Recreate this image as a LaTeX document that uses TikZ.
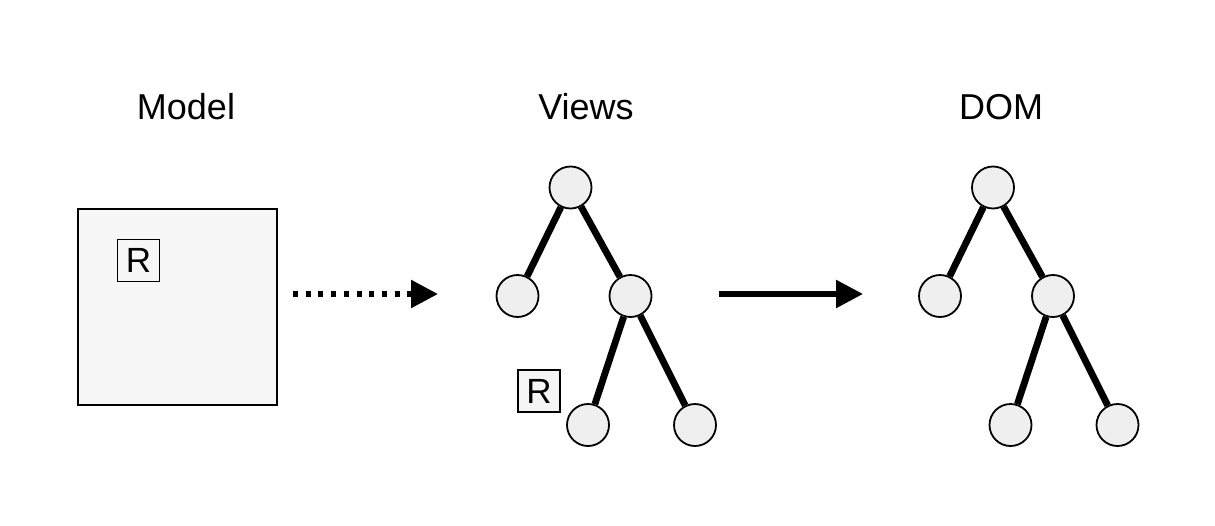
\documentclass[tikz,border=0pt]{standalone}
\usepackage{fontspec}
\setmainfont{Liberation Sans}
\usetikzlibrary{arrows.meta}
\definecolor{boxfill}{HTML}{F7F7F7}
\definecolor{circfill}{HTML}{EFEFEF}
\definecolor{rfill}{HTML}{F5F5F5}
\tikzset{
  title/.style={anchor=base, font=\fontsize{36}{42}\selectfont, inner sep=0pt},
  tnode/.style={circle, draw=black, line width=1.8pt, fill=circfill, minimum size=42pt, inner sep=0pt},
  tedge/.style={line width=6.8pt, draw=black},
  rbox/.style={draw=black, line width=1.8pt, fill=rfill, minimum size=42pt, inner sep=0pt, font=\fontsize{35}{40}\selectfont},
  bigarrow/.style={line width=5.5pt, -{Triangle[length=27pt,width=27pt]}},
}
\begin{document}
\begin{tikzpicture}[x=1pt,y=-1pt]
\useasboundingbox (0,0) rectangle (1215,525);
% titles
\node[title] (tmodel) at (186,119) {Model};
\node[title] (tviews) at (586,119) {Views};
\node[title] (tdom) at (1001,119) {DOM};
% model box
\node[draw=black, line width=2pt, fill=boxfill, minimum width=199pt, minimum height=196pt, inner sep=0pt] (model) at (177,307) {};
\node[rbox, fill=boxfill] (rmodel) at (138.5,260.5) {R};
% views tree
\node[tnode] (v1) at (570.5,187.5) {};
\node[tnode] (v2) at (517.5,296) {};
\node[tnode] (v3) at (630.5,296) {};
\node[tnode] (v4) at (588,425) {};
\node[tnode] (v5) at (695,425) {};
\draw[tedge] (v1) -- (v2);
\draw[tedge] (v1) -- (v3);
\draw[tedge] (v3) -- (v4);
\draw[tedge] (v3) -- (v5);
\node[rbox] (rview) at (539,391) {R};
% dom tree
\node[tnode] (d1) at (993,187.5) {};
\node[tnode] (d2) at (940,296) {};
\node[tnode] (d3) at (1053,296) {};
\node[tnode] (d4) at (1010.5,425) {};
\node[tnode] (d5) at (1117.5,425) {};
\draw[tedge] (d1) -- (d2);
\draw[tedge] (d1) -- (d3);
\draw[tedge] (d3) -- (d4);
\draw[tedge] (d3) -- (d5);
% arrows
\coordinate (a1s) at (293,294);
\coordinate (a1e) at (438,294);
\coordinate (a2s) at (719,294);
\coordinate (a2e) at (863,294);
\draw[bigarrow, dash pattern=on 5pt off 7.7pt] (a1s) -- (a1e);
\draw[bigarrow] (a2s) -- (a2e);
\end{tikzpicture}
\end{document}
